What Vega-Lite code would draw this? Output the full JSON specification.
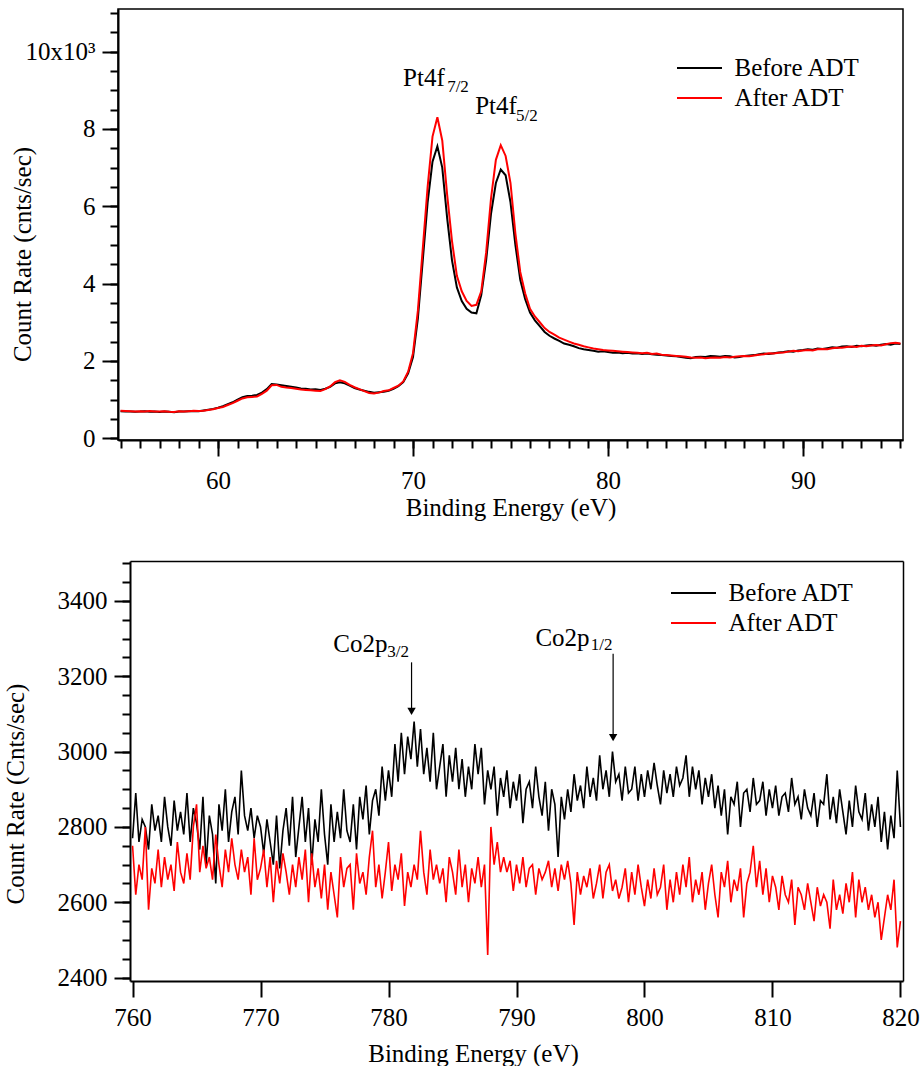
{
"$schema": "https://vega.github.io/schema/vega-lite/v6.json",
"padding": {"left": 3, "top": 8, "right": 0, "bottom": 0},
"background": "white",
"spacing": 40,
"config": {
  "view": {"stroke": "black", "strokeWidth": 1.5},
  "font": "Liberation Serif",
  "axis": {"domainColor": "black", "domainWidth": 2, "tickColor": "black", "tickWidth": 2, "labelFont": "Liberation Serif", "labelFontSize": 25, "labelColor": "black", "titleFont": "Liberation Serif", "titleFontSize": 25, "titleFontWeight": "normal", "titleColor": "black", "grid": false, "labelFlush": false, "labelOverlap": false, "labelBound": false},
  "legend": {"orient": "none", "title": null, "symbolType": "M-4.5,0H4.5", "symbolSize": 100, "symbolStrokeWidth": 2, "labelFont": "Liberation Serif", "labelFontSize": 25, "labelColor": "black", "labelOffset": 21.5, "rowPadding": 4, "padding": 0},
  "text": {"font": "Liberation Serif"}
},
"resolve": {"scale": {"color": "independent"}},
"vconcat": [
{
  "width": 785, "height": 431,
  "resolve": {"axis": {"x": "independent", "y": "independent"}},
  "layer": [
    {
      "data": {"values": [
{"e":55,"before":700,"after":710},{"e":55.25,"before":690,"after":705},{"e":55.5,"before":695,"after":700},{"e":55.75,"before":685,"after":690},
{"e":56,"before":690,"after":700},{"e":56.25,"before":700,"after":695},{"e":56.5,"before":685,"after":705},{"e":56.75,"before":690,"after":690},
{"e":57,"before":680,"after":695},{"e":57.25,"before":690,"after":700},{"e":57.5,"before":685,"after":685},{"e":57.75,"before":675,"after":680},
{"e":58,"before":690,"after":700},{"e":58.25,"before":695,"after":690},{"e":58.5,"before":700,"after":700},{"e":58.75,"before":705,"after":710},
{"e":59,"before":700,"after":705},{"e":59.25,"before":720,"after":710},{"e":59.5,"before":740,"after":730},{"e":59.75,"before":760,"after":750},
{"e":60,"before":790,"after":780},{"e":60.25,"before":830,"after":810},{"e":60.5,"before":880,"after":860},{"e":60.75,"before":930,"after":910},
{"e":61,"before":1000,"after":970},{"e":61.25,"before":1060,"after":1030},{"e":61.5,"before":1090,"after":1060},{"e":61.75,"before":1100,"after":1070},
{"e":62,"before":1120,"after":1080},{"e":62.25,"before":1180,"after":1150},{"e":62.5,"before":1270,"after":1230},{"e":62.75,"before":1400,"after":1370},
{"e":63,"before":1390,"after":1380},{"e":63.25,"before":1370,"after":1330},{"e":63.5,"before":1350,"after":1310},{"e":63.75,"before":1330,"after":1300},
{"e":64,"before":1310,"after":1280},{"e":64.25,"before":1290,"after":1260},{"e":64.5,"before":1280,"after":1250},{"e":64.75,"before":1260,"after":1240},
{"e":65,"before":1270,"after":1230},{"e":65.25,"before":1250,"after":1220},{"e":65.5,"before":1280,"after":1270},{"e":65.75,"before":1330,"after":1340},
{"e":66,"before":1420,"after":1450},{"e":66.25,"before":1450,"after":1500},{"e":66.5,"before":1420,"after":1460},{"e":66.75,"before":1360,"after":1380},
{"e":67,"before":1300,"after":1320},{"e":67.25,"before":1260,"after":1270},{"e":67.5,"before":1230,"after":1220},{"e":67.75,"before":1200,"after":1170},
{"e":68,"before":1180,"after":1160},{"e":68.25,"before":1190,"after":1180},{"e":68.5,"before":1200,"after":1220},{"e":68.75,"before":1230,"after":1240},
{"e":69,"before":1280,"after":1300},{"e":69.25,"before":1350,"after":1360},{"e":69.5,"before":1450,"after":1470},{"e":69.75,"before":1680,"after":1720},
{"e":70,"before":2100,"after":2200},{"e":70.25,"before":3100,"after":3300},{"e":70.5,"before":4600,"after":4900},{"e":70.75,"before":6100,"after":6500},
{"e":71,"before":7150,"after":7800},{"e":71.25,"before":7550,"after":8300},{"e":71.5,"before":7000,"after":7700},{"e":71.75,"before":5700,"after":6300},
{"e":72,"before":4600,"after":5100},{"e":72.25,"before":3900,"after":4200},{"e":72.5,"before":3550,"after":3800},{"e":72.75,"before":3350,"after":3550},
{"e":73,"before":3250,"after":3420},{"e":73.25,"before":3230,"after":3450},{"e":73.5,"before":3700,"after":3800},{"e":73.75,"before":4600,"after":4800},
{"e":74,"before":5800,"after":6200},{"e":74.25,"before":6600,"after":7200},{"e":74.5,"before":6950,"after":7580},{"e":74.75,"before":6800,"after":7300},
{"e":75,"before":6100,"after":6600},{"e":75.25,"before":5000,"after":5300},{"e":75.5,"before":4100,"after":4300},{"e":75.75,"before":3600,"after":3750},
{"e":76,"before":3250,"after":3350},{"e":76.25,"before":3050,"after":3150},{"e":76.5,"before":2900,"after":3000},{"e":76.75,"before":2750,"after":2850},
{"e":77,"before":2650,"after":2750},{"e":77.25,"before":2580,"after":2680},{"e":77.5,"before":2520,"after":2600},{"e":77.75,"before":2450,"after":2550},
{"e":78,"before":2420,"after":2500},{"e":78.25,"before":2380,"after":2450},{"e":78.5,"before":2330,"after":2420},{"e":78.75,"before":2300,"after":2380},
{"e":79,"before":2280,"after":2350},{"e":79.25,"before":2260,"after":2320},{"e":79.5,"before":2240,"after":2300},{"e":79.75,"before":2250,"after":2280},
{"e":80,"before":2230,"after":2270},{"e":80.25,"before":2210,"after":2260},{"e":80.5,"before":2220,"after":2250},{"e":80.75,"before":2200,"after":2240},
{"e":81,"before":2210,"after":2230},{"e":81.25,"before":2190,"after":2220},{"e":81.5,"before":2200,"after":2210},{"e":81.75,"before":2180,"after":2200},
{"e":82,"before":2190,"after":2210},{"e":82.25,"before":2170,"after":2180},{"e":82.5,"before":2160,"after":2190},{"e":82.75,"before":2150,"after":2160},
{"e":83,"before":2140,"after":2150},{"e":83.25,"before":2130,"after":2140},{"e":83.5,"before":2120,"after":2130},{"e":83.75,"before":2100,"after":2120},
{"e":84,"before":2080,"after":2110},{"e":84.25,"before":2070,"after":2090},{"e":84.5,"before":2100,"after":2080},{"e":84.75,"before":2110,"after":2090},
{"e":85,"before":2100,"after":2070},{"e":85.25,"before":2130,"after":2080},{"e":85.5,"before":2120,"after":2090},{"e":85.75,"before":2110,"after":2080},
{"e":86,"before":2130,"after":2100},{"e":86.25,"before":2120,"after":2090},{"e":86.5,"before":2090,"after":2110},{"e":86.75,"before":2100,"after":2120},
{"e":87,"before":2130,"after":2130},{"e":87.25,"before":2140,"after":2120},{"e":87.5,"before":2150,"after":2140},{"e":87.75,"before":2170,"after":2160},
{"e":88,"before":2190,"after":2170},{"e":88.25,"before":2180,"after":2200},{"e":88.5,"before":2200,"after":2190},{"e":88.75,"before":2220,"after":2210},
{"e":89,"before":2230,"after":2220},{"e":89.25,"before":2250,"after":2240},{"e":89.5,"before":2240,"after":2260},{"e":89.75,"before":2270,"after":2250},
{"e":90,"before":2280,"after":2270},{"e":90.25,"before":2300,"after":2280},{"e":90.5,"before":2290,"after":2270},{"e":90.75,"before":2320,"after":2300},
{"e":91,"before":2310,"after":2310},{"e":91.25,"before":2330,"after":2300},{"e":91.5,"before":2350,"after":2330},{"e":91.75,"before":2340,"after":2340},
{"e":92,"before":2370,"after":2340},{"e":92.25,"before":2380,"after":2360},{"e":92.5,"before":2360,"after":2370},{"e":92.75,"before":2390,"after":2360},
{"e":93,"before":2380,"after":2390},{"e":93.25,"before":2400,"after":2380},{"e":93.5,"before":2410,"after":2400},{"e":93.75,"before":2390,"after":2410},
{"e":94,"before":2420,"after":2400},{"e":94.25,"before":2440,"after":2430},{"e":94.5,"before":2420,"after":2460},{"e":94.75,"before":2450,"after":2470},
{"e":95,"before":2440,"after":2450}
      ]},
      "transform": [{"fold": ["before", "after"], "as": ["series", "rate"]}],
      "mark": {"type": "line", "strokeWidth": 2},
      "encoding": {
        "x": {"field": "e", "type": "quantitative", "scale": {"domain": [54.87, 95.13], "nice": false, "zero": false},
              "axis": {"orient": "bottom", "values": [60, 70, 80, 90], "tickSize": 16, "labelPadding": 32, "labelBaseline": "alphabetic", "title": "Binding Energy (eV)", "titleBaseline": "alphabetic", "titleY": 75}},
        "y": {"field": "rate", "type": "quantitative", "scale": {"domain": [-45, 11100], "nice": false, "zero": false},
              "axis": {"orient": "left", "values": [0, 2000, 4000, 6000, 8000, 10000], "tickSize": 16, "labelPadding": 7, "labelBaseline": "middle", "labelExpr": "datum.value == 10000 ? '10x10³' : format(datum.value / 1000, 'd')", "title": "Count Rate (cnts/sec)", "titleBaseline": "alphabetic", "titleX": -88, "titleY": 245}},
        "color": {"field": "series", "type": "nominal", "scale": {"domain": ["before", "after"], "range": ["black", "red"]},
                  "legend": {"legendX": 569, "legendY": 46.5, "labelOffset": 22.5, "labelExpr": "datum.value == 'before' ? 'Before ADT' : 'After ADT'"}}
      }
    },
    {
      "data": {"values": [{"x": 69.49, "y": 9100, "t": "Pt4f"}, {"x": 73.19, "y": 8387, "t": "Pt4f"}]},
      "mark": {"type": "text", "font": "Liberation Serif", "fontSize": 25, "align": "left", "baseline": "alphabetic", "color": "black"},
      "encoding": {
        "x": {"field": "x", "type": "quantitative", "axis": {"orient": "bottom", "values": [55,56,57,58,59,60,61,62,63,64,65,66,67,68,69,70,71,72,73,74,75,76,77,78,79,80,81,82,83,84,85,86,87,88,89,90,91,92,93,94,95], "tickSize": 8, "labels": false, "domain": false, "title": null}},
        "y": {"field": "y", "type": "quantitative", "axis": {"orient": "left", "values": [0,500,1000,1500,2000,2500,3000,3500,4000,4500,5000,5500,6000,6500,7000,7500,8000,8500,9000,9500,10000,10500,11000], "tickSize": 8, "labels": false, "domain": false, "title": null}},
        "text": {"field": "t"}
      }
    },
    {
      "data": {"values": [{"x": 71.75, "y": 8955, "t": "7/2"}, {"x": 75.28, "y": 8214, "t": "5/2"}]},
      "mark": {"type": "text", "font": "Liberation Serif", "fontSize": 17, "align": "left", "baseline": "alphabetic", "color": "black"},
      "encoding": {
        "x": {"field": "x", "type": "quantitative", "axis": null},
        "y": {"field": "y", "type": "quantitative", "axis": null},
        "text": {"field": "t"}
      }
    }
  ]
},
{
  "width": 785, "height": 420,
  "view": {"stroke": null},
  "resolve": {"axis": {"x": "independent", "y": "independent"}},
  "layer": [
    {
      "data": {"values": [
{"e":760,"before":2770,"after":2750},{"e":760.25,"before":2890,"after":2620},{"e":760.5,"before":2760,"after":2700},{"e":760.75,"before":2820,"after":2660},
{"e":761,"before":2800,"after":2800},{"e":761.25,"before":2740,"after":2580},{"e":761.5,"before":2860,"after":2690},{"e":761.75,"before":2790,"after":2650},
{"e":762,"before":2830,"after":2740},{"e":762.25,"before":2760,"after":2640},{"e":762.5,"before":2880,"after":2720},{"e":762.75,"before":2800,"after":2660},
{"e":763,"before":2750,"after":2700},{"e":763.25,"before":2870,"after":2630},{"e":763.5,"before":2790,"after":2760},{"e":763.75,"before":2840,"after":2680},
{"e":764,"before":2780,"after":2650},{"e":764.25,"before":2890,"after":2730},{"e":764.5,"before":2760,"after":2660},{"e":764.75,"before":2850,"after":2800},
{"e":765,"before":2810,"after":2860},{"e":765.25,"before":2740,"after":2680},{"e":765.5,"before":2880,"after":2750},{"e":765.75,"before":2700,"after":2690},
{"e":766,"before":2830,"after":2720},{"e":766.25,"before":2780,"after":2660},{"e":766.5,"before":2650,"after":2780},{"e":766.75,"before":2860,"after":2700},
{"e":767,"before":2790,"after":2640},{"e":767.25,"before":2900,"after":2740},{"e":767.5,"before":2760,"after":2680},{"e":767.75,"before":2840,"after":2770},
{"e":768,"before":2880,"after":2700},{"e":768.25,"before":2780,"after":2660},{"e":768.5,"before":2950,"after":2740},{"e":768.75,"before":2830,"after":2680},
{"e":769,"before":2790,"after":2720},{"e":769.25,"before":2850,"after":2620},{"e":769.5,"before":2770,"after":2770},{"e":769.75,"before":2830,"after":2660},
{"e":770,"before":2800,"after":2690},{"e":770.25,"before":2730,"after":2740},{"e":770.5,"before":2820,"after":2640},{"e":770.75,"before":2760,"after":2720},
{"e":771,"before":2700,"after":2600},{"e":771.25,"before":2830,"after":2710},{"e":771.5,"before":2690,"after":2650},{"e":771.75,"before":2790,"after":2730},
{"e":772,"before":2850,"after":2680},{"e":772.25,"before":2750,"after":2620},{"e":772.5,"before":2880,"after":2700},{"e":772.75,"before":2720,"after":2640},
{"e":773,"before":2800,"after":2720},{"e":773.25,"before":2880,"after":2660},{"e":773.5,"before":2760,"after":2740},{"e":773.75,"before":2850,"after":2600},
{"e":774,"before":2700,"after":2730},{"e":774.25,"before":2820,"after":2640},{"e":774.5,"before":2760,"after":2690},{"e":774.75,"before":2900,"after":2610},
{"e":775,"before":2780,"after":2700},{"e":775.25,"before":2700,"after":2580},{"e":775.5,"before":2860,"after":2680},{"e":775.75,"before":2760,"after":2620},
{"e":776,"before":2840,"after":2560},{"e":776.25,"before":2770,"after":2720},{"e":776.5,"before":2900,"after":2640},{"e":776.75,"before":2790,"after":2690},
{"e":777,"before":2760,"after":2700},{"e":777.25,"before":2860,"after":2580},{"e":777.5,"before":2740,"after":2730},{"e":777.75,"before":2880,"after":2650},
{"e":778,"before":2820,"after":2680},{"e":778.25,"before":2910,"after":2620},{"e":778.5,"before":2780,"after":2720},{"e":778.75,"before":2870,"after":2790},
{"e":779,"before":2900,"after":2640},{"e":779.25,"before":2830,"after":2700},{"e":779.5,"before":2960,"after":2610},{"e":779.75,"before":2870,"after":2680},
{"e":780,"before":2950,"after":2760},{"e":780.25,"before":2880,"after":2630},{"e":780.5,"before":3020,"after":2700},{"e":780.75,"before":2920,"after":2660},
{"e":781,"before":3050,"after":2730},{"e":781.25,"before":2940,"after":2590},{"e":781.5,"before":3040,"after":2680},{"e":781.75,"before":2980,"after":2640},
{"e":782,"before":3080,"after":2700},{"e":782.25,"before":2960,"after":2660},{"e":782.5,"before":3060,"after":2790},{"e":782.75,"before":2940,"after":2680},
{"e":783,"before":3010,"after":2620},{"e":783.25,"before":2920,"after":2740},{"e":783.5,"before":3050,"after":2660},{"e":783.75,"before":2900,"after":2700},
{"e":784,"before":2960,"after":2650},{"e":784.25,"before":3020,"after":2690},{"e":784.5,"before":2880,"after":2600},{"e":784.75,"before":2990,"after":2720},
{"e":785,"before":2920,"after":2680},{"e":785.25,"before":3010,"after":2620},{"e":785.5,"before":2900,"after":2740},{"e":785.75,"before":2980,"after":2640},
{"e":786,"before":2880,"after":2700},{"e":786.25,"before":2960,"after":2600},{"e":786.5,"before":2900,"after":2690},{"e":786.75,"before":3020,"after":2650},
{"e":787,"before":2940,"after":2720},{"e":787.25,"before":3010,"after":2640},{"e":787.5,"before":2860,"after":2700},{"e":787.75,"before":2950,"after":2460},
{"e":788,"before":2900,"after":2800},{"e":788.25,"before":2960,"after":2700},{"e":788.5,"before":2830,"after":2760},{"e":788.75,"before":2930,"after":2680},
{"e":789,"before":2880,"after":2720},{"e":789.25,"before":2950,"after":2680},{"e":789.5,"before":2850,"after":2710},{"e":789.75,"before":2920,"after":2630},
{"e":790,"before":2870,"after":2700},{"e":790.25,"before":2940,"after":2650},{"e":790.5,"before":2810,"after":2720},{"e":790.75,"before":2900,"after":2640},
{"e":791,"before":2920,"after":2690},{"e":791.25,"before":2850,"after":2700},{"e":791.5,"before":2960,"after":2620},{"e":791.75,"before":2880,"after":2690},
{"e":792,"before":2830,"after":2660},{"e":792.25,"before":2920,"after":2680},{"e":792.5,"before":2790,"after":2710},{"e":792.75,"before":2900,"after":2640},
{"e":793,"before":2860,"after":2690},{"e":793.25,"before":2720,"after":2630},{"e":793.5,"before":2880,"after":2700},{"e":793.75,"before":2820,"after":2660},
{"e":794,"before":2900,"after":2710},{"e":794.25,"before":2840,"after":2650},{"e":794.5,"before":2940,"after":2540},{"e":794.75,"before":2870,"after":2680},
{"e":795,"before":2910,"after":2620},{"e":795.25,"before":2850,"after":2670},{"e":795.5,"before":2960,"after":2640},{"e":795.75,"before":2880,"after":2690},
{"e":796,"before":2930,"after":2610},{"e":796.25,"before":2870,"after":2650},{"e":796.5,"before":2990,"after":2700},{"e":796.75,"before":2900,"after":2610},
{"e":797,"before":2950,"after":2680},{"e":797.25,"before":2880,"after":2700},{"e":797.5,"before":3000,"after":2630},{"e":797.75,"before":2920,"after":2660},
{"e":798,"before":2940,"after":2610},{"e":798.25,"before":2870,"after":2640},{"e":798.5,"before":2960,"after":2690},{"e":798.75,"before":2890,"after":2600},
{"e":799,"before":2900,"after":2680},{"e":799.25,"before":2960,"after":2620},{"e":799.5,"before":2870,"after":2700},{"e":799.75,"before":2940,"after":2640},
{"e":800,"before":2880,"after":2590},{"e":800.25,"before":2950,"after":2660},{"e":800.5,"before":2900,"after":2610},{"e":800.75,"before":2970,"after":2690},
{"e":801,"before":2910,"after":2620},{"e":801.25,"before":2860,"after":2640},{"e":801.5,"before":2950,"after":2700},{"e":801.75,"before":2890,"after":2580},
{"e":802,"before":2940,"after":2660},{"e":802.25,"before":2880,"after":2600},{"e":802.5,"before":2960,"after":2680},{"e":802.75,"before":2910,"after":2620},
{"e":803,"before":2930,"after":2700},{"e":803.25,"before":2990,"after":2640},{"e":803.5,"before":2880,"after":2720},{"e":803.75,"before":2960,"after":2600},
{"e":804,"before":2900,"after":2660},{"e":804.25,"before":2950,"after":2620},{"e":804.5,"before":2860,"after":2680},{"e":804.75,"before":2930,"after":2580},
{"e":805,"before":2880,"after":2650},{"e":805.25,"before":2940,"after":2700},{"e":805.5,"before":2850,"after":2620},{"e":805.75,"before":2910,"after":2560},
{"e":806,"before":2830,"after":2680},{"e":806.25,"before":2900,"after":2640},{"e":806.5,"before":2780,"after":2710},{"e":806.75,"before":2880,"after":2600},
{"e":807,"before":2860,"after":2660},{"e":807.25,"before":2920,"after":2630},{"e":807.5,"before":2800,"after":2690},{"e":807.75,"before":2890,"after":2560},
{"e":808,"before":2900,"after":2650},{"e":808.25,"before":2840,"after":2680},{"e":808.5,"before":2930,"after":2750},{"e":808.75,"before":2860,"after":2640},
{"e":809,"before":2870,"after":2710},{"e":809.25,"before":2920,"after":2620},{"e":809.5,"before":2830,"after":2690},{"e":809.75,"before":2900,"after":2600},
{"e":810,"before":2850,"after":2670},{"e":810.25,"before":2910,"after":2640},{"e":810.5,"before":2830,"after":2580},{"e":810.75,"before":2880,"after":2670},
{"e":811,"before":2890,"after":2620},{"e":811.25,"before":2840,"after":2600},{"e":811.5,"before":2930,"after":2660},{"e":811.75,"before":2860,"after":2540},
{"e":812,"before":2880,"after":2640},{"e":812.25,"before":2820,"after":2620},{"e":812.5,"before":2900,"after":2580},{"e":812.75,"before":2850,"after":2650},
{"e":813,"before":2830,"after":2600},{"e":813.25,"before":2890,"after":2550},{"e":813.5,"before":2800,"after":2640},{"e":813.75,"before":2870,"after":2590},
{"e":814,"before":2860,"after":2620},{"e":814.25,"before":2940,"after":2600},{"e":814.5,"before":2820,"after":2530},{"e":814.75,"before":2880,"after":2660},
{"e":815,"before":2810,"after":2580},{"e":815.25,"before":2900,"after":2620},{"e":815.5,"before":2840,"after":2570},{"e":815.75,"before":2780,"after":2650},
{"e":816,"before":2870,"after":2600},{"e":816.25,"before":2800,"after":2680},{"e":816.5,"before":2910,"after":2560},{"e":816.75,"before":2840,"after":2660},
{"e":817,"before":2820,"after":2600},{"e":817.25,"before":2890,"after":2640},{"e":817.5,"before":2790,"after":2580},{"e":817.75,"before":2860,"after":2620},
{"e":818,"before":2800,"after":2560},{"e":818.25,"before":2880,"after":2600},{"e":818.5,"before":2760,"after":2500},{"e":818.75,"before":2840,"after":2560},
{"e":819,"before":2740,"after":2620},{"e":819.25,"before":2830,"after":2580},{"e":819.5,"before":2770,"after":2660},{"e":819.75,"before":2950,"after":2480},
{"e":820,"before":2800,"after":2550}
      ]},
      "transform": [{"fold": ["before", "after"], "as": ["series", "rate"]}],
      "mark": {"type": "line", "strokeWidth": 1.6},
      "encoding": {
        "x": {"field": "e", "type": "quantitative", "scale": {"domain": [759.8, 820.2], "range": [12, 785], "nice": false, "zero": false},
              "axis": {"orient": "bottom", "values": [760, 770, 780, 790, 800, 810, 820], "tickSize": 16, "labelPadding": 28, "labelBaseline": "alphabetic", "title": "Binding Energy (eV)", "titleBaseline": "alphabetic", "titleY": 80, "titleX": 355}},
        "y": {"field": "rate", "type": "quantitative", "scale": {"domain": [2391, 3506], "nice": false, "zero": false},
              "axis": {"orient": "left", "offset": -12, "values": [2400, 2600, 2800, 3000, 3200, 3400], "tickSize": 16, "labelPadding": 7, "labelBaseline": "middle", "format": "d", "title": "Count Rate (Cnts/sec)", "titleBaseline": "alphabetic", "titleX": -107, "titleY": 232.5}},
        "color": {"field": "series", "type": "nominal", "scale": {"domain": ["before", "after"], "range": ["black", "red"]},
                  "legend": {"legendX": 563, "legendY": 19.5, "labelOffset": 22.5, "labelExpr": "datum.value == 'before' ? 'Before ADT' : 'After ADT'"}}
      }
    },
    {
      "data": {"values": [{"x": 775.68, "y": 3264, "t": "Co2p"}, {"x": 791.48, "y": 3281, "t": "Co2p"}]},
      "mark": {"type": "text", "font": "Liberation Serif", "fontSize": 25, "align": "left", "baseline": "alphabetic", "color": "black"},
      "encoding": {
        "x": {"field": "x", "type": "quantitative", "axis": {"orient": "top", "ticks": false, "labels": false, "domain": true, "domainWidth": 1.5, "title": null, "minExtent": 0, "maxExtent": 0}},
        "y": {"field": "y", "type": "quantitative", "axis": {"orient": "left", "offset": -12, "values": [2400,2450,2500,2550,2600,2650,2700,2750,2800,2850,2900,2950,3000,3050,3100,3150,3200,3250,3300,3350,3400,3450,3500], "tickSize": 8, "labels": false, "domain": false, "title": null}},
        "text": {"field": "t"}
      }
    },
    {
      "data": {"values": [{"x": 779.9, "y": 3252, "t": "3/2"}, {"x": 795.8, "y": 3270, "t": "1/2"}]},
      "mark": {"type": "text", "font": "Liberation Serif", "fontSize": 17, "align": "left", "baseline": "alphabetic", "color": "black"},
      "encoding": {
        "x": {"field": "x", "type": "quantitative", "axis": null},
        "y": {"field": "y", "type": "quantitative", "axis": {"orient": "right", "ticks": false, "labels": false, "domain": true, "domainWidth": 1.5, "title": null, "minExtent": 0, "maxExtent": 0}},
        "text": {"field": "t"}
      }
    },
    {
      "data": {"values": [{"x": 781.8, "y": 3237, "y2": 3105}, {"x": 797.55, "y": 3260, "y2": 3035}]},
      "mark": {"type": "rule", "color": "black", "strokeWidth": 1.2},
      "encoding": {
        "x": {"field": "x", "type": "quantitative", "axis": null},
        "y": {"field": "y", "type": "quantitative", "axis": null},
        "y2": {"field": "y2"}
      }
    },
    {
      "data": {"values": [{"x": 781.8, "y": 3107}, {"x": 797.55, "y": 3037}]},
      "mark": {"type": "point", "shape": "triangle-down", "filled": true, "color": "black", "size": 70, "opacity": 1},
      "encoding": {
        "x": {"field": "x", "type": "quantitative", "axis": null},
        "y": {"field": "y", "type": "quantitative", "axis": null}
      }
    }
  ]
}
]
}
